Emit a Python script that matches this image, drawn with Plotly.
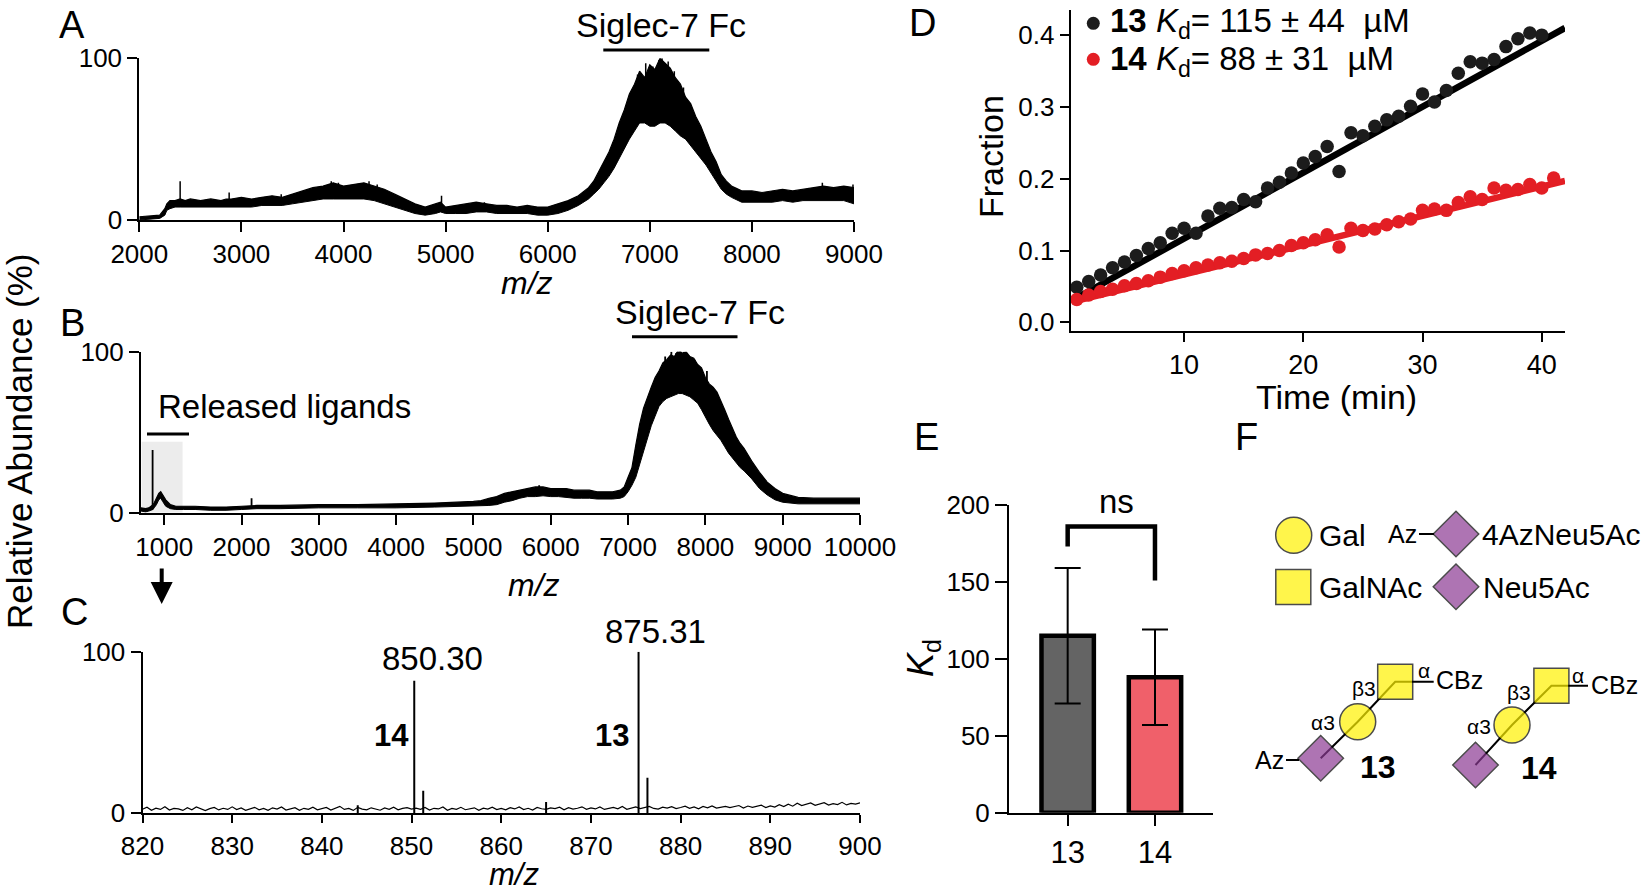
import plotly.graph_objects as go

W, H = 1650, 891
FONT = "Liberation Sans, Arial, sans-serif"

# ---------------- panel A : Siglec-7 Fc alone (noise band, % rel. abundance)
mz_a = [2000, 2100, 2200, 2250, 2270, 2300, 2350, 2400, 2450, 2500,
        2600, 2700, 2800, 2850, 2900, 3000, 3100, 3200, 3300, 3400,
        3500, 3600, 3700, 3800, 3900, 4000, 4100, 4200, 4300, 4400,
        4500, 4600, 4700, 4800, 4900, 4950, 5000, 5100, 5200, 5300,
        5400, 5500, 5600, 5700, 5800, 5900, 6000, 6100, 6200, 6300,
        6400, 6450, 6500, 6550, 6600, 6650, 6700, 6750, 6800, 6850,
        6900, 6950, 7000, 7050, 7100, 7150, 7200, 7250, 7300, 7350,
        7400, 7450, 7500, 7550, 7600, 7650, 7700, 7750, 7800, 7900,
        8000, 8100, 8200, 8300, 8400, 8500, 8600, 8700, 8800, 8900,
        9000]
hi_a = [2, 2.5, 3, 7, 10, 12, 12, 13, 12, 13,
        12, 13, 12, 13, 13, 14, 13, 14, 15, 14,
        16, 18, 20, 21, 23, 21, 22, 23, 21, 19,
        16, 13, 10, 8, 10, 11, 8, 9, 10, 11,
        10, 9, 9, 8, 9, 8, 8, 10, 12, 15,
        20, 24, 30, 36, 42, 50, 60, 68, 78, 84,
        92, 88, 96, 93, 100, 97, 94, 88, 84, 76,
        72, 64, 58, 50, 42, 36, 28, 24, 21, 18,
        18, 17, 18, 19, 18, 19, 20, 21, 20, 21,
        20]
lo_a = [0, 0.5, 1, 3, 6, 7, 8, 8, 8, 8,
        8, 8, 8, 8, 8, 8, 8, 9, 9, 9,
        10, 11, 12, 13, 13, 13, 13, 13, 12, 10,
        8, 6, 4, 3, 4, 5, 4, 4, 4, 5,
        5, 4, 4, 4, 4, 3, 3, 4, 6, 9,
        13, 16, 19, 23, 27, 32, 38, 44, 50, 55,
        60, 60, 58, 58, 60, 60, 58, 55, 52, 50,
        46, 42, 38, 34, 29, 24, 19, 16, 14, 11,
        11, 11, 11, 12, 11, 12, 12, 12, 12, 12,
        10]
# isolated noise needles standing out of the band (base inside the band, tip above it)
spike_mz_a = [2400, 2880, 3390, 3640, 3880, 3950, 4250, 4330, 4960, 5380,
              6640, 6880, 6960, 7030, 7090, 7120, 7180, 7240, 7330, 8690, 8990]
spike_base_a = [10, 10, 11, 13, 15, 15, 15, 15, 6, 6,
                38, 70, 70, 70, 70, 70, 70, 70, 65, 16, 15]
spike_int_a = [24, 17, 16, 19, 24, 23, 24, 22, 15, 11,
               48, 90, 97, 95, 99, 100, 98, 92, 82, 23, 22]

# ---------------- panel B : after ligand release
mz_b = [700, 760, 800, 830, 845, 850, 855, 870, 900, 930,
        955, 980, 1020, 1080, 1150, 1250, 1400, 1600, 1800, 2000,
        2200, 2500, 3000, 3500, 4000, 4500, 5000, 5100, 5200, 5300,
        5400, 5500, 5600, 5700, 5800, 5900, 6000, 6100, 6200, 6300,
        6400, 6500, 6600, 6700, 6800, 6900, 6950, 7000, 7050, 7100,
        7150, 7200, 7250, 7300, 7350, 7400, 7450, 7500, 7550, 7600,
        7650, 7700, 7750, 7800, 7850, 7900, 7950, 8000, 8050, 8100,
        8150, 8200, 8250, 8300, 8350, 8400, 8450, 8500, 8600, 8700,
        8800, 8900, 9000, 9200, 9400, 9600, 9800, 10000]
hi_b = [3, 2.5, 3, 4, 5, 5, 5, 6, 9, 12,
        13, 11, 8, 5, 4, 4, 4, 3.5, 3.5, 4,
        4.5, 4.5, 5, 5, 5.5, 6, 7, 7.5, 9, 10,
        12, 13, 14, 15, 16, 16, 15, 15, 15, 14,
        14, 14, 13, 13, 13, 14, 16, 22, 28, 42,
        55, 65, 72, 78, 84, 88, 93, 95, 98, 97,
        101, 99, 100, 97, 96, 92, 90, 84, 80, 78,
        75, 70, 64, 58, 52, 47, 43, 40, 32, 25,
        19, 15, 12, 9.5, 9, 9, 9, 9]
lo_b = [1, 0.5, 1, 1.5, 2, 2, 2, 3, 5, 8,
        9, 7, 4, 2.5, 2, 2, 2, 1.5, 1.5, 2,
        2.5, 2.5, 3, 3, 3, 3.5, 4, 4, 4.5, 5,
        6.5, 7.5, 9, 10, 10, 10.5, 10, 10, 9.5, 9,
        9, 9, 8.5, 8.5, 8.5, 9, 10, 13, 17, 22,
        30, 38, 47, 54, 60, 66, 69, 71, 72, 73,
        74, 74, 73, 72, 70, 68, 64, 59, 55, 51,
        48, 45, 41, 37, 34, 31, 28, 26, 21, 15,
        11, 8, 6.5, 5.5, 5.5, 5.5, 5.5, 5.5]
spike_mz_b = [850, 2130, 5850, 7480, 7560, 7620, 7680, 7720, 7780, 7860, 8020]
spike_base_b = [2, 3, 12, 80, 80, 80, 80, 80, 80, 80, 75]
spike_int_b = [39, 9, 17, 97, 100, 99, 101, 100, 98, 95, 88]
released_range = [708, 1238]
ticks_b = [1000, 2000, 3000, 4000, 5000, 6000, 7000, 8000, 9000, 10000]

# ---------------- panel C : zoom on released ligands (baseline every 0.5 m/z)
base_c = [2.5, 3.8, 1.9, 3.2, 2.4, 4.1, 2.0, 3.0, 2.7, 1.8, 3.5, 2.2, 3.9, 2.6, 1.7, 2.9, 3.6, 2.1, 3.1, 2.4,
          4.0, 2.3, 3.3, 1.9, 2.8, 3.7, 2.2, 3.0, 1.8, 3.4, 2.6, 3.9, 2.0, 2.9, 3.5, 1.9, 3.1, 2.5, 3.8, 2.2,
          2.9, 3.6, 2.0, 3.2, 4.3, 2.4, 3.0, 1.8, 3.7, 2.6, 2.1, 3.4, 2.7, 1.9, 3.3, 2.5, 3.8, 2.2, 3.0, 3.5,
          2.6, 3.2, 2.4, 3.6, 2.0, 3.1, 2.7, 3.9, 1.9, 3.0, 2.5, 3.7, 2.2, 2.9, 3.4, 1.8, 3.2, 2.6, 3.8, 2.3,
          3.0, 2.1, 3.5, 2.7, 3.9, 2.3, 3.1, 2.0, 3.6, 2.8, 2.4, 3.3, 2.9, 3.8, 2.2, 3.5, 2.6, 3.1, 4.0, 2.5,
          3.3, 2.7, 3.9, 2.4, 3.0, 3.6, 2.8, 4.2, 2.5, 3.4, 3.9, 2.9, 3.5, 4.3, 3.0, 2.6, 3.8, 3.2, 4.1, 2.9,
          3.6, 4.4, 3.1, 3.9, 2.8, 4.2, 3.4, 4.6, 3.2, 3.8, 4.3, 3.5, 4.0, 4.8, 3.3, 4.5, 3.7, 4.2, 5.0, 3.6,
          4.6, 3.9, 5.3, 4.2, 5.6, 4.4, 6.2, 4.8, 5.5, 6.4, 4.9, 5.8, 6.6, 5.1, 6.0, 5.4, 6.8, 5.2, 6.1, 5.7,
          6.5]
mz_c = [820 + 0.5 * i for i in range(len(base_c))]
peak_mz_c = [844.0, 850.30, 851.3, 865.0, 875.31, 876.3]
peak_int_c = [5, 82, 14, 7, 100, 22]

# ---------------- panel D : release kinetics
time_d = list(range(1, 43))
frac13 = [0.049, 0.057, 0.066, 0.076, 0.084, 0.093, 0.103, 0.111, 0.124, 0.131,
          0.124, 0.148, 0.159, 0.160, 0.171, 0.168, 0.187, 0.195, 0.208, 0.222,
          0.231, 0.245, 0.210, 0.264, 0.260, 0.273, 0.282, 0.287, 0.301, 0.318,
          0.307, 0.323, 0.347, 0.363, 0.361, 0.366, 0.384, 0.395, 0.403, 0.400,
          0.436, 0.383]
frac14 = [0.032, 0.038, 0.043, 0.046, 0.051, 0.054, 0.058, 0.063, 0.068, 0.072,
          0.076, 0.080, 0.083, 0.085, 0.089, 0.094, 0.096, 0.100, 0.107, 0.111,
          0.115, 0.122, 0.105, 0.131, 0.128, 0.130, 0.136, 0.140, 0.144, 0.156,
          0.158, 0.156, 0.167, 0.175, 0.171, 0.187, 0.184, 0.185, 0.192, 0.187,
          0.201, 0.178]
fit_t = [1.2, 41.95]
fit13 = [0.036, 0.410]
fit14 = [0.031, 0.197]

# ---------------- panel E : Kd
kd_labels = ["13", "14"]
kd_vals = [115, 88]
kd_err = [44, 31]
ns_bracket_y = [173, 186, 186, 151]

BLACK = "black"
RED = "#e31e24"
YELLOW = "#fff200"
PURPLE = "#8c3a94"
NB = "\u00a0"


def sticks(xs, bases, tops):
    px, py = [], []
    for x, b, t in zip(xs, bases, tops):
        px += [x, x, None]
        py += [b, t, None]
    return px, py


fig = go.Figure()

# spectra bands
for xa, ya, mz, lo, hi in [("x", "y", mz_a, lo_a, hi_a), ("x2", "y2", mz_b, lo_b, hi_b)]:
    fig.add_trace(go.Scatter(x=mz, y=lo, mode="lines", line=dict(color=BLACK, width=1),
                             xaxis=xa, yaxis=ya))
    fig.add_trace(go.Scatter(x=mz, y=hi, mode="lines", line=dict(color=BLACK, width=1.2),
                             fill="tonexty", fillcolor=BLACK, xaxis=xa, yaxis=ya))

sx, sy = sticks(spike_mz_a, spike_base_a, spike_int_a)
fig.add_trace(go.Scatter(x=sx, y=sy, mode="lines", line=dict(color=BLACK, width=1.5), xaxis="x", yaxis="y"))
sx, sy = sticks(spike_mz_b, spike_base_b, spike_int_b)
fig.add_trace(go.Scatter(x=sx, y=sy, mode="lines", line=dict(color=BLACK, width=1.8), xaxis="x2", yaxis="y2"))

fig.add_trace(go.Scatter(x=mz_c, y=base_c, mode="lines", line=dict(color=BLACK, width=1.2),
                         xaxis="x3", yaxis="y3"))
sx, sy = sticks(peak_mz_c, [0] * len(peak_mz_c), peak_int_c)
fig.add_trace(go.Scatter(x=sx, y=sy, mode="lines", line=dict(color=BLACK, width=2), xaxis="x3", yaxis="y3"))

# panel D
fig.add_trace(go.Scatter(x=fit_t, y=fit13, mode="lines", line=dict(color=BLACK, width=6.5),
                         xaxis="x4", yaxis="y4"))
fig.add_trace(go.Scatter(x=fit_t, y=fit14, mode="lines", line=dict(color=RED, width=6.5),
                         xaxis="x4", yaxis="y4"))
fig.add_trace(go.Scatter(x=time_d, y=frac13, mode="markers", marker=dict(color="#1c1c1c", size=13.5),
                         cliponaxis=False, xaxis="x4", yaxis="y4"))
fig.add_trace(go.Scatter(x=time_d, y=frac14, mode="markers", marker=dict(color=RED, size=13.5),
                         cliponaxis=False, xaxis="x4", yaxis="y4"))

# panel E
fig.add_trace(go.Bar(x=[0, 1], y=kd_vals, width=0.60,
                     marker=dict(color=["#646464", "#f0606a"], line=dict(color=BLACK, width=4.5)),
                     error_y=dict(type="data", array=kd_err, color=BLACK, thickness=2, width=13),
                     xaxis="x5", yaxis="y5"))
fig.add_trace(go.Scatter(x=[0, 0, 1, 1], y=ns_bracket_y, mode="lines",
                         line=dict(color=BLACK, width=4.5), xaxis="x5", yaxis="y5"))

# ---------------- overlay (pixel units) for decorations and glycan cartoons
OV = dict(xaxis="x6", yaxis="y6")


def line(pts, width=2, color=BLACK):
    fig.add_trace(go.Scatter(x=[p[0] for p in pts], y=[p[1] for p in pts], mode="lines",
                             line=dict(color=color, width=width), **OV))


# glycan links
line([(1320.7, 758.3), (1357.7, 721.7), (1395.2, 681.7), (1433.7, 681.7)])
line([(1286, 760), (1299, 760)])
line([(1475.5, 765), (1512, 725), (1551.4, 685.7), (1588, 685.7)])
line([(1419, 534), (1434, 534)])

glyph_x = [1293.7, 1293.3, 1456, 1456, 1357.7, 1395.2, 1320.7, 1512, 1551.4, 1475.5]
glyph_y = [535.3, 587, 534, 586.7, 721.7, 681.7, 758.3, 725, 685.7, 765]
glyph_sym = ["circle", "square", "diamond", "diamond", "circle", "square", "diamond",
             "circle", "square", "diamond"]
glyph_col = [YELLOW, YELLOW, PURPLE, PURPLE, YELLOW, YELLOW, PURPLE, YELLOW, YELLOW, PURPLE]
glyph_size = [36 if s == "circle" else 35 for s in glyph_sym]
fig.add_trace(go.Scatter(x=glyph_x, y=glyph_y, mode="markers",
                         marker=dict(symbol=glyph_sym, color=glyph_col, size=glyph_size,
                                     line=dict(color=BLACK, width=1.5)), **OV))

# legend dots of panel D
fig.add_trace(go.Scatter(x=[1093.3, 1093.3], y=[23.3, 59.3], mode="markers",
                         marker=dict(color=["#1c1c1c", RED], size=13), **OV))

# bars above peaks
line([(603.3, 50), (709.3, 50)], width=3)
line([(632, 336.7), (737.5, 336.7)], width=3)
line([(147, 434), (189, 434)], width=3)

annotations = []


def txt(s, x, y, size=33, xanchor="center", angle=0, **kw):
    annotations.append(dict(text=s, x=x, y=y, xref="x6", yref="y6", showarrow=False,
                            xanchor=xanchor, yanchor="middle", textangle=angle,
                            font=dict(size=size, family=FONT, color=BLACK), **kw))


for lab, x, y in [("A", 72, 25), ("B", 72, 323), ("C", 74, 612), ("D", 922.5, 23),
                  ("E", 926, 437), ("F", 1246, 437)]:
    txt(lab, x, y, size=38)

txt("Siglec-7 Fc", 660.8, 25, size=34)
txt("<i>m/z</i>", 527, 283, size=32)
txt("Siglec-7 Fc", 700, 311.7, size=34)
txt("Released ligands", 284.5, 406.7, size=33)
txt("<i>m/z</i>", 534, 585, size=32)
txt("850.30", 432.8, 658.3, size=33)
txt("875.31", 655, 631.7, size=33)
txt("<b>14</b>", 391, 735, size=31)
txt("<b>13</b>", 611.7, 735, size=31)
txt("<i>m/z</i>", 513.6, 874, size=31)
txt("Relative Abundance (%)", 19, 441, size=35, angle=-90)

txt("<b>13</b> <i>K</i><sub>d</sub>= 115 ± 44" + NB + " µM", 1108.3, 23.3, size=33, xanchor="left")
txt("<b>14</b> <i>K</i><sub>d</sub>= 88 ± 31" + NB + " µM", 1108.3, 61, size=33, xanchor="left")
txt("Fraction", 991, 157, size=34, angle=-90)
txt("Time (min)", 1336.7, 397, size=34)

txt("<i>K</i><sub>d</sub>", 923, 658, size=36, angle=-90)
txt("ns", 1116.7, 501.7, size=33)

txt("Gal", 1316.7, 535, size=30, xanchor="left")
txt("Az", 1419, 534, size=25, xanchor="right")
txt("4AzNeu5Ac", 1480, 534, size=30, xanchor="left")
txt("GalNAc", 1316.7, 587, size=30, xanchor="left")
txt("Neu5Ac", 1480.7, 587, size=30, xanchor="left")

txt("α", 1424, 670, size=21)
txt("CBz", 1433.7, 680, size=25, xanchor="left")
txt("β3", 1364, 688.3, size=21)
txt("α3", 1323, 722.7, size=21)
txt("Az", 1286, 760, size=25, xanchor="right")
txt("<b>13</b>", 1378.4, 766.7, size=32)
txt("α", 1577.9, 675, size=21)
txt("CBz", 1588.5, 685, size=25, xanchor="left")
txt("β3", 1518.8, 692.7, size=21)
txt("α3", 1479.3, 726.7, size=21)
txt("<b>14</b>", 1539.4, 768.3, size=32)

# arrow from B to C
annotations.append(dict(x=161.7, y=604, ax=161.7, ay=567, xref="x6", yref="y6", axref="x6", ayref="y6",
                        text="", showarrow=True, arrowhead=2, arrowsize=1.1, arrowwidth=4,
                        arrowcolor=BLACK))


def ax_style(**kw):
    d = dict(showline=True, linecolor=BLACK, linewidth=2, ticks="outside", ticklen=10, tickwidth=2,
             tickcolor=BLACK, showgrid=False, zeroline=False, automargin=False,
             exponentformat="none", separatethousands=False,
             tickfont=dict(size=26, family=FONT, color=BLACK))
    d.update(kw)
    return d


def fx(px):
    return px / W


def fy(py):
    return 1 - py / H


fig.update_layout(
    width=W, height=H, margin=dict(l=0, r=0, t=0, b=0, pad=0, autoexpand=False),
    paper_bgcolor="white", plot_bgcolor="rgba(0,0,0,0)", showlegend=False,
    font=dict(family=FONT, color=BLACK),
    xaxis=ax_style(domain=[fx(139.3), fx(854)], range=[2000, 9000],
                   tickvals=[2000, 3000, 4000, 5000, 6000, 7000, 8000, 9000], anchor="y"),
    yaxis=ax_style(domain=[fy(220), fy(58.3)], range=[0, 100], tickvals=[0, 100], anchor="x"),
    xaxis2=ax_style(domain=[fx(141), fx(860)], range=[700, 10000],
                    tickvals=ticks_b, ticktext=[str(v) for v in ticks_b], anchor="y2"),
    yaxis2=ax_style(domain=[fy(512.7), fy(351.7)], range=[0, 100], tickvals=[0, 100], anchor="x2"),
    xaxis3=ax_style(domain=[fx(142.5), fx(860)], range=[820, 900], ticklen=8,
                    tickvals=[820, 830, 840, 850, 860, 870, 880, 890, 900], anchor="y3"),
    yaxis3=ax_style(domain=[fy(813.3), fy(651.7)], range=[0, 100], tickvals=[0, 100], anchor="x3"),
    xaxis4=ax_style(domain=[fx(1070.7), fx(1565)], range=[0.49, 41.95], tickvals=[10, 20, 30, 40],
                    ticklen=9, tickfont=dict(size=27, family=FONT, color=BLACK), anchor="y4"),
    yaxis4=ax_style(domain=[fy(331), fy(10)], range=[-0.012, 0.435],
                    tickvals=[0, 0.1, 0.2, 0.3, 0.4], tickformat=".1f", ticklen=9, anchor="x4"),
    xaxis5=ax_style(domain=[fx(1009), fx(1213.3)], range=[-0.672, 1.668], tickvals=[0, 1],
                    ticktext=kd_labels, ticklen=11, tickfont=dict(size=31, family=FONT, color=BLACK),
                    anchor="y5"),
    yaxis5=ax_style(domain=[fy(812.7), fy(505)], range=[0, 200], tickvals=[0, 50, 100, 150, 200],
                    ticklen=12, anchor="x5"),
    xaxis6=dict(domain=[0, 1], range=[0, W], visible=False, anchor="y6", automargin=False),
    yaxis6=dict(domain=[0, 1], range=[H, 0], visible=False, anchor="x6", automargin=False),
    annotations=annotations,
    shapes=[dict(type="rect", xref="x2", yref="y2", x0=released_range[0], x1=released_range[1],
                 y0=0, y1=44, fillcolor="#ececec", line=dict(width=0), layer="below")],
)

# page body margin off so the figure sits at the window's top-left corner
fig.write_html("out.html", config={"displayModeBar": False},
               post_script="document.body.style.margin='0px';")
